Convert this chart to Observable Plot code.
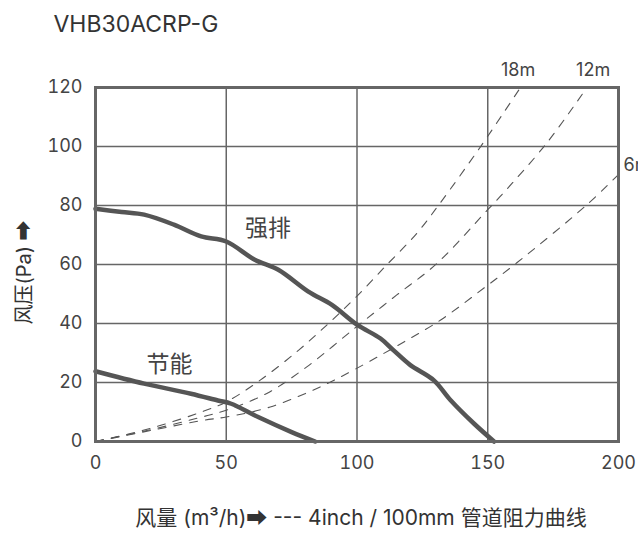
<!DOCTYPE html>
<html>
<head>
<meta charset="utf-8">
<script src="https://cdn.jsdelivr.net/npm/d3@7"></script>
<script src="https://cdn.jsdelivr.net/npm/@observablehq/plot@0.6"></script>
<style>
  html, body { margin: 0; padding: 0; background: #fff; overflow: hidden; }
  svg { overflow: visible; }
</style>
</head>
<body>
<div id="chart"></div>
<script>
// ---- data ----
const title = "VHB30ACRP-G";
const xTicks = [0, 50, 100, 150, 200];
const yTicks = [0, 20, 40, 60, 80, 100, 120];

// 强排 (boost) fan curve
const boostX = [0, 10, 18.6, 30, 40.4, 50, 60.9, 69.9, 81.4, 90.4, 100, 109, 114, 120.4, 129.3, 135.8, 144.7, 152.4];
const boostY = [78.9, 77.8, 76.9, 73.5, 69.5, 67.8, 61.6, 58.2, 50.8, 46.3, 39.6, 34.9, 30.9, 25.9, 20.8, 14, 6.1, 0];

// 节能 (eco) fan curve
const ecoX = [0, 18.6, 36.5, 46.8, 51.9, 62.2, 75, 84];
const ecoY = [23.8, 19.6, 16.2, 13.9, 12.8, 8.3, 3.2, 0];

// duct resistance curves
const r18X = [0, 8, 17, 25, 34, 42, 50, 63, 77.6, 89.7, 99.7, 111.3, 122.8, 131.1, 147.6, 162.3];
const r18Y = [0, 1.6, 3.5, 5.5, 8, 10.5, 13.4, 20.8, 30.9, 40.5, 49, 59.8, 70.5, 80, 100.4, 119.7];
const r12X = [0, 8, 17, 25, 34, 42, 50, 65.5, 80.8, 99.7, 115.1, 130.5, 149.8, 154.6, 172.4, 187.7];
const r12Y = [0, 1.5, 3.2, 4.8, 6.8, 8.6, 10.6, 16.3, 25.3, 38.8, 49.6, 60.3, 78.4, 82.9, 101, 119.7];
const r6X = [0, 8, 17, 25, 34, 42, 50, 66.8, 85.9, 99.7, 119, 132, 150, 161, 187.7, 200];
const r6Y = [0, 1.4, 3, 4.4, 6, 7.3, 8.3, 11.7, 18.5, 24.7, 34.3, 41.2, 53, 60.5, 80.1, 90.5];

const curveLabels = ["强排", "节能"];
const curveLabelX = [66, 28.3];
const curveLabelY = [72.1, 26.2];

const ductLabels = ["18m", "12m", "6m"];
const ductLabelX = [161.6, 190.3, 201.9];
const ductLabelY = [125.8, 125.8, 93.7];
const ductLabelAnchor = ["middle", "middle", "start"];

const yLabel = "风压(Pa) ➡";
const xLabel = "风量 (m³/h)➡ --- 4inch / 100mm 管道阻力曲线";

// ---- build tables ----
const zip = (xs, ys, s) => xs.map((x, i) => ({x, y: ys[i], s}));
const boost = zip(boostX, boostY, "强排");
const eco = zip(ecoX, ecoY, "节能");
const ducts = [...zip(r18X, r18Y, "18m"), ...zip(r12X, r12Y, "12m"), ...zip(r6X, r6Y, "6m")];
const cLabels = curveLabels.map((t, i) => ({t, x: curveLabelX[i], y: curveLabelY[i]}));
const dLabels = ductLabels.map((t, i) => ({t, x: ductLabelX[i], y: ductLabelY[i], a: ductLabelAnchor[i]}));

const font = "Inter, 'Noto Sans CJK SC', sans-serif";
const ink = "#555";
const txt = "#444";

const chart = Plot.plot({
  width: 638,
  height: 536,
  marginLeft: 95,
  marginRight: 20,
  marginTop: 87,
  marginBottom: 95,
  style: {fontFamily: font, fontSize: "18px", color: txt, background: "#fff", overflow: "visible"},
  x: {domain: [0, 200]},
  y: {domain: [0, 120]},
  marks: [
    Plot.gridX(xTicks, {stroke: "#666", strokeOpacity: 1, strokeWidth: 1.5}),
    Plot.gridY(yTicks, {stroke: "#666", strokeOpacity: 1, strokeWidth: 1.5}),
    Plot.axisX(xTicks, {tickSize: 0, tickPadding: 15, label: null, fontSize: 18, fill: txt}),
    Plot.axisY(yTicks, {tickSize: 0, tickPadding: 13, label: null, fontSize: 18, fill: txt}),
    Plot.line(ducts, {x: "x", y: "y", z: "s", stroke: ink, strokeWidth: 1.1, strokeDasharray: "8,8", curve: "catmull-rom"}),
    Plot.line(boost, {x: "x", y: "y", stroke: ink, strokeWidth: 4.5, curve: "catmull-rom"}),
    Plot.line(eco, {x: "x", y: "y", stroke: ink, strokeWidth: 4.5, curve: "catmull-rom"}),
    Plot.frame({stroke: "#666", strokeWidth: 3}),
    Plot.text(cLabels, {x: "x", y: "y", text: "t", fontSize: 23, fill: txt}),
    Plot.text(dLabels, {x: "x", y: "y", text: "t", textAnchor: "start", fontSize: 18, fill: txt, filter: d => d.a === "start"}),
    Plot.text(dLabels, {x: "x", y: "y", text: "t", fontSize: 18, fill: txt, filter: d => d.a === "middle"}),
    Plot.text([title], {frameAnchor: "top-left", dx: -42, dy: -63, textAnchor: "start", lineAnchor: "middle", fontSize: 23, fill: "#333"}),
    Plot.text([xLabel], {frameAnchor: "bottom", dx: 4, dy: 77, textAnchor: "middle", lineAnchor: "middle", fontSize: 21, fill: "#333"}),
    Plot.text([yLabel], {frameAnchor: "left", dx: -71, dy: 8, textAnchor: "middle", lineAnchor: "middle", rotate: -90, fontSize: 20, fill: "#333"})
  ]
});
document.getElementById("chart").appendChild(chart);
</script>
</body>
</html>
